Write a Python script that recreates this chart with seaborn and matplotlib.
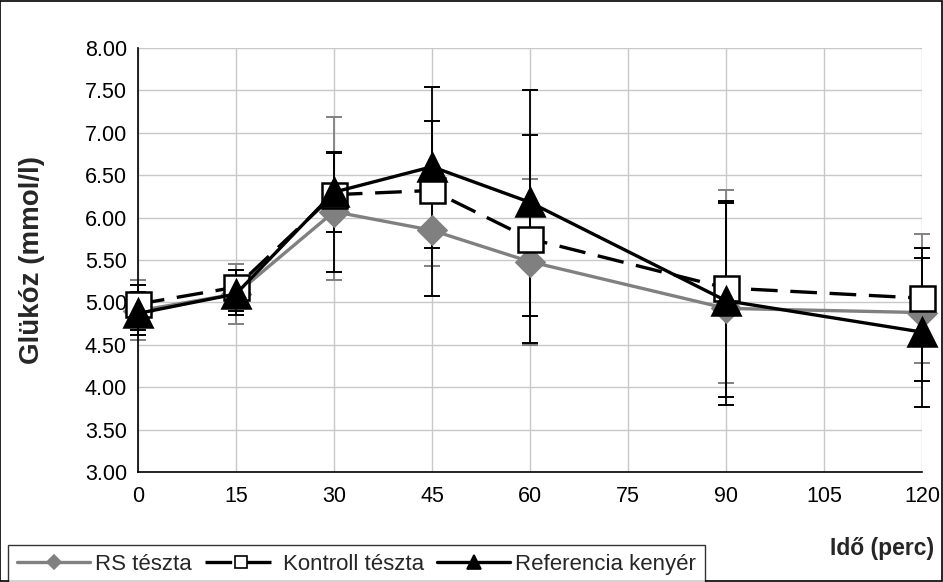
import matplotlib
matplotlib.use("Agg")
import matplotlib.pyplot as plt
import seaborn as sns
import numpy as np
import pandas as pd
from matplotlib.patches import Rectangle

# ---- data ----
times = [0, 15, 30, 45, 60, 90, 120]

rs_vals = [4.90, 5.10, 6.07, 5.85, 5.48, 4.93, 4.88]
rs_hi   = [5.26, 5.45, 7.19, 6.27, 6.46, 6.33, 5.81]
rs_lo   = [4.56, 4.75, 5.26, 5.43, 4.50, 4.05, 4.28]

k_vals  = [4.98, 5.18, 6.27, 6.32, 5.75, 5.17, 5.05]
k_hi    = [5.20, 5.38, 6.76, 7.14, 6.97, 6.17, 5.64]
k_lo    = [4.62, 4.90, 5.36, 5.08, 4.52, 3.89, 4.07]

r_vals  = [4.87, 5.10, 6.30, 6.60, 6.18, 5.02, 4.65]
r_hi    = [5.12, 5.38, 6.77, 7.54, 7.51, 6.20, 5.52]
r_lo    = [4.67, 4.85, 5.83, 5.64, 4.84, 3.79, 3.77]

series_names = ["RS tészta", "Kontroll tészta", "Referencia kenyér"]
x_ticks = [0, 15, 30, 45, 60, 75, 90, 105, 120]
y_ticks = [3.0, 3.5, 4.0, 4.5, 5.0, 5.5, 6.0, 6.5, 7.0, 7.5, 8.0]
x_label = "Idő (perc)"
y_label = "Glükóz (mmol/l)"

# ---- style ----
sns.set_theme(style="white")
plt.rcParams["font.family"] = ["Liberation Sans", "DejaVu Sans"]

fig = plt.figure(figsize=(9.43, 5.82), dpi=100)
ax = fig.add_axes([138/943, 1-472/582, (922-138)/943, (472-48)/582])

df = pd.DataFrame({
    "time": times * 3,
    "value": rs_vals + k_vals + r_vals,
    "series": [series_names[0]]*7 + [series_names[1]]*7 + [series_names[2]]*7,
})

styles = {
    series_names[0]: dict(color="#808080", marker="D", ms=14, mfc="#808080", mec="#808080", ls="-", lw=2.4),
    series_names[1]: dict(color="black", marker="s", ms=18, mfc="white", mec="black", ls=(0, (8, 3.8)), lw=2.4),
    series_names[2]: dict(color="black", marker="^", ms=20, mfc="black", mec="black", ls="-", lw=2.4),
}
errs = {
    series_names[0]: (rs_vals, rs_lo, rs_hi),
    series_names[1]: (k_vals, k_lo, k_hi),
    series_names[2]: (r_vals, r_lo, r_hi),
}

# error bars first (behind markers)
for name in series_names:
    v, lo, hi = errs[name]
    v = np.array(v); lo = np.array(lo); hi = np.array(hi)
    col = styles[name]["color"]
    eb = ax.errorbar(times, v, yerr=[v - lo, hi - v], fmt="none", ecolor=col,
                     elinewidth=1.3, capsize=5.5, capthick=1.4, zorder=2)
    for art in eb.lines[1]:
        art.set_clip_on(False)
    for art in eb.lines[2]:
        art.set_clip_on(False)

handles = []
for name in series_names:
    st = styles[name]
    sub = df[df["series"] == name]
    sns.lineplot(data=sub, x="time", y="value", ax=ax, color=st["color"],
                 linewidth=st["lw"], linestyle=st["ls"], marker=st["marker"],
                 markersize=st["ms"], markerfacecolor=st["mfc"],
                 markeredgecolor=st["mec"], markeredgewidth=1.8,
                 legend=False, zorder=3, clip_on=False)
    h, = ax.plot([], [], color=st["color"], lw=st["lw"], ls=st["ls"],
                 marker=st["marker"], ms=st["ms"]*0.5, mfc=st["mfc"],
                 mec=st["mec"], mew=1.2)
    handles.append(h)

ax.set_xlim(0, 120)
ax.set_ylim(3, 8)
ax.set_xticks(x_ticks)
ax.set_yticks(y_ticks)
ax.set_yticklabels([f"{t:.2f}" for t in y_ticks])
ax.tick_params(axis="both", labelsize=15.5, colors="black", length=5,
               direction="out", width=1)
ax.tick_params(axis="x", pad=5)
ax.tick_params(axis="y", pad=3)
ax.grid(True, color="#c8c8c8", linewidth=1, linestyle="-")
ax.set_axisbelow(True)
for s in ["top", "right"]:
    ax.spines[s].set_visible(False)
for s in ["left", "bottom"]:
    ax.spines[s].set_color("black")
    ax.spines[s].set_linewidth(1.2)
ax.set_xlabel("")
ax.set_ylabel(y_label, fontsize=20, fontweight="bold")
ax.yaxis.set_label_coords(-0.119, 0.50)

fig.text(882/943, 1-549/582, x_label, fontsize=16.5, fontweight="bold",
         ha="center", va="center")

leg = fig.legend(handles, series_names, loc="upper left",
                 bbox_to_anchor=(8/943, 1-545/582), ncol=3, fontsize=16,
                 frameon=True, fancybox=False, edgecolor="black",
                 handlelength=3.3, handletextpad=0.2, columnspacing=0.6,
                 borderpad=0.4, borderaxespad=0)
leg.get_frame().set_linewidth(1)

# outer figure border
fig.patches.append(Rectangle((0.0005, 0.001), 0.998, 0.997, transform=fig.transFigure,
                             fill=False, edgecolor="black", linewidth=1.2))

fig.savefig("out.png", dpi=100)
